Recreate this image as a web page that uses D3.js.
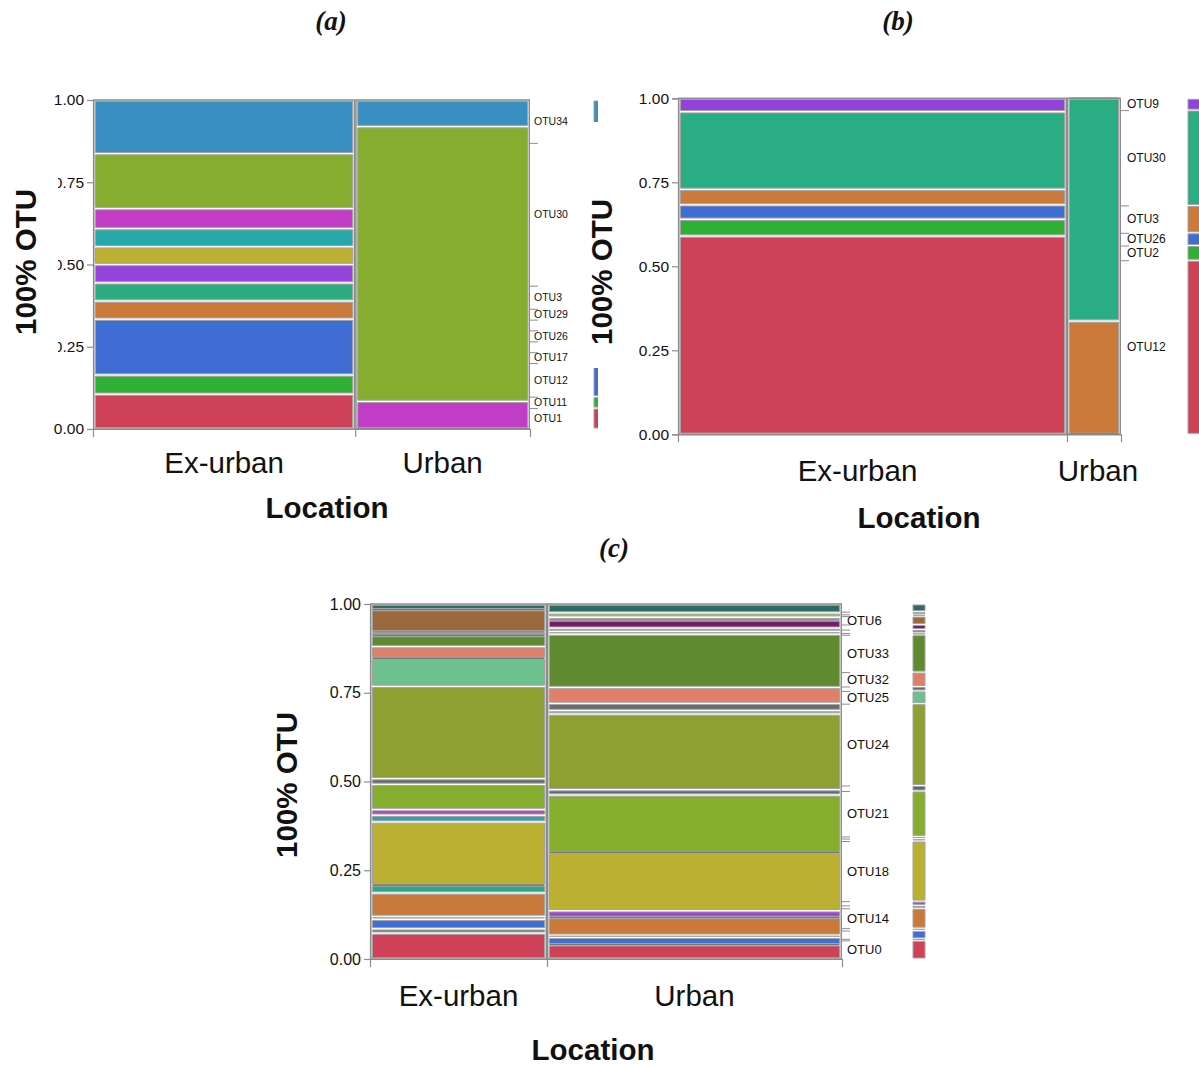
<!DOCTYPE html>
<html>
<head>
<meta charset="utf-8">
<script src="https://cdn.jsdelivr.net/npm/d3@7"></script>
<style>
  body { margin: 0; background: #fff; }
  svg { display: block; }
  text { font-family: "Liberation Sans", Arial, sans-serif; fill: #111; }
</style>
</head>
<body>
<svg id="fig" width="1199" height="1068"></svg>
<script>
// ---------- shared ----------
const locations = ["Ex-urban", "Urban"];
const yTicks = [0, 0.25, 0.5, 0.75, 1];

// ---------- panel (a): OTU proportions, stacked top -> bottom ----------
const aShare = [0.6, 0.4];                       // share of samples per location (column widths)
const aOtus = ["OTU34","OTU30","OTU3","OTU29","OTU28","OTU26","OTU22","OTU17","OTU12","OTU11","OTU1"];
const aColors = ["#3a8fc2","#86ad2f","#c23dc6","#27a9aa","#bdb131","#9444da","#2aab81","#cc7a3a","#3f6dd4","#2db034","#cf4157"];
const aExUrban = [0.163,0.167,0.061,0.055,0.054,0.056,0.055,0.055,0.170,0.058,0.106];
const aUrban   = [0.081,0.835,0.084,0,0,0,0,0,0,0,0];

// ---------- panel (b) ----------
const bShare = [0.878, 0.122];
const bOtus = ["OTU9","OTU30","OTU3","OTU26","OTU2","OTU12"];
const bColors = ["#9440da","#2bad83","#cc7a3a","#3f6dd4","#2db034","#cf4157"];
const bExUrban = [0.040,0.231,0.046,0.043,0.050,0.590];
const bUrban   = [0,0.663,0.337,0,0,0];

// ---------- panel (c) ----------
const cShare = [0.375, 0.625];
const cOtus = ["OTU9","OTU8","OTU7","OTU6","OTU5","OTU4","OTU36","OTU33","OTU32","OTU31","OTU25","OTU24",
               "OTU22","OTU21","OTU20","OTU2","OTU18","OTU17","OTU16","OTU14","OTU12","OTU11","OTU10","OTU0"];
const cColors = ["#2f6b66","#8fd14f","#676b6b","#9a6a3c","#771c6c","#676b6b","#86d4c4","#5f8a2f","#e0806a","#676b6b","#6cc18f","#8fa032",
                 "#5d6a72","#86ae2e","#b443c6","#2ba2ae","#bcb033","#9b45d9","#2aa882","#c97a3b","#676b6b","#3f6ed4","#676b6b","#cf4157"];
const cExUrban = [0.016,0,0,0.063,0,0.010,0,0.031,0.033,0,0.079,0.260,
                  0.016,0.071,0.016,0.019,0.178,0,0.022,0.066,0.008,0.027,0.012,0.073];
const cUrban   = [0.025,0.012,0.008,0,0.023,0.009,0.008,0.150,0.045,0.020,0.010,0.213,
                  0.015,0.162,0,0,0.164,0.019,0,0.050,0.006,0.021,0,0.040];

const svg = d3.select("#fig");
const GRID = "#8c8c8c";

// stack values listed top->bottom so that the last one sits on 0
function stackCells(vals) {
  const cells = [];
  let acc = 0;
  for (let i = vals.length - 1; i >= 0; i--) {
    cells[i] = { i, bottom: acc, top: acc + vals[i], v: vals[i] };
    acc += vals[i];
  }
  return cells;
}

function cellPath(x0, x1, y0, y1) {
  if (y1 - y0 < 0.6) { const m = (y0 + y1) / 2; y0 = m; y1 = m; }
  return `M${x0},${y0}H${x1}V${y1}H${x0}Z`;
}

function drawCells(sel, cells, colors, x0, x1, y, inset) {
  sel.selectAll("path").data(cells).join("path")
    .attr("d", d => cellPath(x0, x1, y(d.top) + inset, y(d.bottom) - inset))
    .attr("fill", d => colors[d.i])
    .attr("stroke", d => d.v > 0 ? "#a3a3a3" : "#767676")
    .attr("stroke-width", d => d.v > 0 ? 1 : 1.6);
}

function drawMosaic(p) {
  const g = svg.append("g");
  const y = d3.scaleLinear().domain([0, 1]).range([p.bottom, p.top]);
  const x = d3.scaleLinear().domain([0, 1]).range([p.left, p.right]);
  const edges = [0, ...d3.cumsum(p.share)];

  // white card behind the panel
  if (p.card) g.append("rect").attr("x", p.card[0]).attr("y", p.card[1])
      .attr("width", p.card[2]).attr("height", p.card[3]).attr("fill", "#fff");

  // mosaic columns
  p.series.forEach((vals, c) => {
    const x0 = x(edges[c]), x1 = x(edges[c + 1]);
    drawCells(g.append("g"), stackCells(vals), p.colors, x0 + 2.5, x1 - 2.5, y, 1.2);
    g.append("rect").attr("x", x0 + 0.75).attr("y", y(1))
      .attr("width", x1 - x0 - 1.5).attr("height", y(0) - y(1))
      .attr("fill", "none").attr("stroke", GRID).attr("stroke-width", 1.5);
  });

  // overall composition strip
  const marg = p.series[0].map((v, i) => p.share[0] * v + p.share[1] * p.series[1][i]);
  const mCells = stackCells(marg);
  drawCells(g.append("g"), mCells, p.colors, p.stripX, p.stripX + 12, y, 1);

  // left axis
  const ya = g.append("g").attr("transform", `translate(${p.left},0)`)
    .call(d3.axisLeft(y).tickValues(yTicks).tickFormat(d3.format(".2f")).tickSize(6).tickPadding(3));
  ya.selectAll("path,line").attr("stroke", GRID).attr("stroke-width", 1.2);
  ya.selectAll("text").style("font-size", p.tickFont + "px").attr("fill", "#222");

  // bottom axis with a tick at the column boundary
  const xa = g.append("g").attr("transform", `translate(0,${p.bottom})`)
    .call(d3.axisBottom(x).tickValues(edges.slice(1, -1)).tickFormat("").tickSize(8));
  xa.selectAll("path,line").attr("stroke", GRID).attr("stroke-width", 1.2);

  // right axis: ticks at composition boundaries
  const bounds = mCells.map(d => d.bottom).filter(v => v > 1e-6);
  const ra = g.append("g").attr("transform", `translate(${p.right},0)`)
    .call(d3.axisRight(y).tickValues(bounds).tickFormat("").tickSize(8));
  ra.select(".domain").remove();
  ra.selectAll("line").attr("stroke", GRID).attr("stroke-width", 1);

  // category names at composition centres, skipping crowded ones
  const h = p.bottom - p.top;
  const order = d3.range(marg.length).sort((a, b) => marg[b] - marg[a]);
  const kept = [];
  order.forEach(i => {
    if (marg[i] * h < p.minLabelPx) return;
    const yy = y((mCells[i].top + mCells[i].bottom) / 2);
    if (kept.every(k => Math.abs(k.yy - yy) >= p.labelGap)) kept.push({ i, yy });
  });
  g.append("g").selectAll("text").data(kept).join("text")
    .attr("x", p.right + p.labelDx).attr("y", d => d.yy).attr("dy", "0.35em")
    .style("font-size", p.labelFont + "px").attr("fill", "#222")
    .text(d => p.otus[d.i]);

  // location names
  g.append("g").selectAll("text").data(locations).join("text")
    .attr("x", (d, i) => x((edges[i] + edges[i + 1]) / 2) + (p.catShift ? p.catShift[i] : 0))
    .attr("y", p.catY).attr("text-anchor", "middle")
    .style("font-size", "29.5px").text(d => d);

  g.append("text").attr("x", p.locX).attr("y", p.locY).attr("text-anchor", "middle")
    .style("font-size", "29.5px").style("font-weight", "bold").text("Location");

  // y title on its own white box
  const t = p.yTitle;
  g.append("rect").attr("x", t.box[0]).attr("y", t.box[1]).attr("width", t.box[2]).attr("height", t.box[3]).attr("fill", "#fff");
  g.append("text").attr("transform", `translate(${t.x},${t.y}) rotate(-90)`)
    .attr("text-anchor", "middle").attr("dy", "0.36em")
    .style("font-size", "29.5px").style("font-weight", "bold").text("100% OTU");

  // panel letter
  g.append("text").attr("x", p.tag[0]).attr("y", p.tag[1]).attr("text-anchor", "middle")
    .style("font-family", '"Liberation Serif", "Times New Roman", serif')
    .style("font-size", "27px").style("font-weight", "bold").style("font-style", "italic")
    .text(p.tag[2]);
}

drawMosaic({
  otus: aOtus, colors: aColors, series: [aExUrban, aUrban], share: aShare,
  left: 93, right: 530, top: 100, bottom: 429, stripX: 594,
  tickFont: 15.5, labelFont: 10.5, labelDx: 4, labelGap: 13, minLabelPx: 7,
  catY: 473, locX: 327, locY: 518,
  yTitle: { x: 25, y: 262, box: [0, 168, 58, 188] },
  tag: [331, 30, "(a)"]
});

drawMosaic({
  otus: bOtus, colors: bColors, series: [bExUrban, bUrban], share: bShare,
  left: 678, right: 1121, top: 98.3, bottom: 434.3, stripX: 1188,
  tickFont: 15.5, labelFont: 12, labelDx: 6, labelGap: 13, minLabelPx: 7,
  catY: 481, catShift: [-15, 4], locX: 919, locY: 528,
  card: [598, 45, 601, 495],
  yTitle: { x: 601, y: 272, box: [586, 122, 32, 246] },
  tag: [898, 30, "(b)"]
});

drawMosaic({
  otus: cOtus, colors: cColors, series: [cExUrban, cUrban], share: cShare,
  left: 370, right: 842, top: 604, bottom: 959, stripX: 913,
  tickFont: 16, labelFont: 13, labelDx: 5, labelGap: 17, minLabelPx: 7,
  catY: 1006, locX: 593, locY: 1060,
  yTitle: { x: 286, y: 785, box: [268, 700, 36, 170] },
  tag: [614, 557, "(c)"]
});
</script>
</body>
</html>
